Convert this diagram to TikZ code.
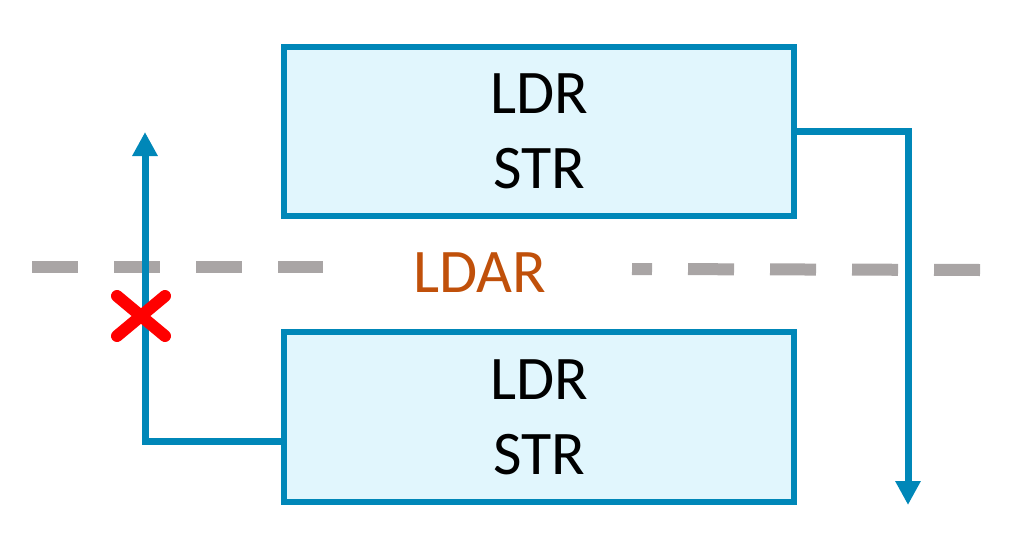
\documentclass[tikz,border=0pt]{standalone}
\usepackage{fontspec}
\setmainfont{Carlito}
\usetikzlibrary{arrows.meta}
\definecolor{cblue}{HTML}{0087B8}
\definecolor{cfill}{HTML}{E1F6FD}
\definecolor{cgray}{HTML}{A9A5A5}
\definecolor{corange}{HTML}{C0500A}
\definecolor{cred}{HTML}{FF0000}
\tikzset{
  regbox/.style={draw=cblue, line width=6pt, fill=cfill, minimum width=510pt, minimum height=169pt, inner sep=0pt, align=center, font=\fontsize{62}{75}\selectfont},
  flow/.style={draw=cblue, line width=7pt, -{Triangle[length=24pt,width=24pt]}},
  sep/.style={draw=cgray, line width=12pt, dash pattern=on 46pt off 36pt},
  cross/.style={draw=cred, line width=12pt, line cap=round}
}
\begin{document}
\begin{tikzpicture}[x=1pt,y=-1pt]
\useasboundingbox (0,0) rectangle (1009,538);
\node[regbox] (top) at (539,131.5) {LDR\\STR};
\node[regbox, minimum height=170pt] (bot) at (539,417) {LDR\\STR};
\node[text=corange, font=\fontsize{62}{75}\selectfont] (ldar) at (480,273) {LDAR};
\coordinate (dl1) at (32,267);
\coordinate (dl2) at (323,267);
\coordinate (dr1) at (632,269);
\coordinate (dr2) at (980,270);
\draw[sep] (dl1) -- (dl2);
\draw[sep, dash phase=26pt] (dr1) -- (dr2);
\coordinate (upend) at (145,132);
\coordinate (downend) at (908,505);
\draw[flow] ([yshift=-24pt]bot.west) -| (upend);
\draw[flow] ([xshift=-3pt]top.east) -| (downend);
\coordinate (xc) at (141,316);
\draw[cross] ([shift={(-24,-20)}]xc) -- ([shift={(24,20)}]xc);
\draw[cross] ([shift={(-24,20)}]xc) -- ([shift={(24,-20)}]xc);
\end{tikzpicture}
\end{document}
